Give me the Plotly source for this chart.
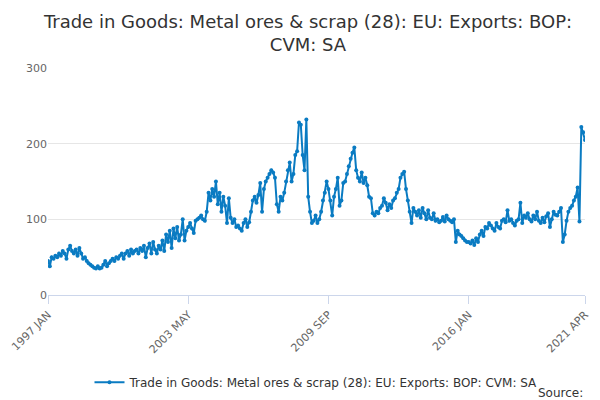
import plotly.graph_objects as go

months = ['JAN', 'FEB', 'MAR', 'APR', 'MAY', 'JUN',
          'JUL', 'AUG', 'SEP', 'OCT', 'NOV', 'DEC']

values = {
    1997: [45, 38, 50, 48, 52, 50, 55, 52, 58, 55, 48, 60],
    1998: [65, 58, 55, 60, 52, 62, 55, 48, 50, 45, 42, 40],
    1999: [38, 36, 35, 38, 35, 36, 40, 45, 38, 42, 45, 48],
    2000: [45, 50, 48, 52, 55, 48, 55, 58, 52, 60, 55, 58],
    2001: [60, 55, 62, 58, 65, 50, 62, 68, 55, 70, 60, 55],
    2002: [65, 60, 72, 58, 80, 70, 85, 62, 88, 75, 90, 72],
    2003: [80, 100, 72, 85, 90, 95, 88, 82, 98, 100, 102, 105],
    2004: [100, 98, 110, 135, 125, 140, 130, 150, 120, 135, 110, 130],
    2005: [118, 95, 128, 102, 95, 100, 90, 92, 88, 85, 95, 100],
    2006: [90, 96, 110, 125, 130, 122, 132, 148, 110, 140, 150, 155],
    2007: [160, 165, 162, 155, 120, 110, 130, 125, 135, 150, 165, 175],
    2008: [150, 160, 185, 190, 228, 225, 185, 165, 232, 130, 110, 95],
    2009: [98, 105, 95, 100, 110, 125, 135, 150, 140, 125, 105, 130],
    2010: [140, 155, 118, 125, 148, 150, 160, 170, 180, 188, 195, 165],
    2011: [155, 150, 162, 148, 155, 145, 130, 128, 108, 105, 110, 108],
    2012: [115, 118, 128, 122, 112, 120, 115, 125, 128, 135, 140, 155],
    2013: [160, 163, 140, 125, 110, 95, 115, 110, 105, 112, 102, 115],
    2014: [108, 100, 112, 102, 100, 108, 98, 100, 96, 98, 103, 97],
    2015: [105, 100, 98, 96, 100, 70, 85, 80, 78, 75, 72, 70],
    2016: [70, 68, 72, 66, 75, 70, 80, 85, 78, 90, 88, 95],
    2017: [92, 88, 85, 95, 90, 88, 98, 100, 96, 112, 98, 100],
    2018: [95, 92, 98, 100, 122, 95, 105, 102, 108, 100, 97, 105],
    2019: [100, 110, 98, 95, 102, 96, 104, 108, 90, 100, 110, 106],
    2020: [105, 110, 115, 70, 80, 98, 110, 115, 118, 125, 130, 142],
    2021: [97, 222, 215, 205],
}

dates = []
data = []
for year, vals in values.items():
    for i, v in enumerate(vals):
        dates.append(f'{year} {months[i]}')
        data.append(v)

name = 'Trade in Goods: Metal ores & scrap (28): EU: Exports: BOP: CVM: SA'

fig = go.Figure()

fig.add_trace(go.Scatter(
    x=dates, y=data,
    mode='lines+markers',
    name=name,
    line=dict(color='#0a7bc2', width=2),
    marker=dict(color='#0a7bc2', size=4)
))

fig.add_annotation(
    text='Source:', x=1.0, y=-0.47, xref='paper', yref='paper',
    xanchor='right', showarrow=False,
    font=dict(size=12, color='#333333')
)

fig.update_layout(
    title=dict(text='Trade in Goods: Metal ores & scrap (28): EU: Exports: BOP:<br>CVM: SA',
               x=0.5, y=0.95, yref='container', yanchor='top'),
    title_font=dict(size=18, color='#333333'),
    font=dict(family='DejaVu Sans', color='#666666'),
    showlegend=True,
    legend=dict(orientation='h', x=0.5, xanchor='center', y=-0.32,
                font=dict(size=12, color='#333333')),
    width=600,
    height=400,
    plot_bgcolor='white',
    paper_bgcolor='white',
    margin=dict(l=40, r=23, t=60, b=110),
    hovermode='closest',
    xaxis=dict(type='category', showgrid=False, zeroline=False, automargin=False,
               range=[0, len(dates) - 1],
               tickvals=['1997 JAN', '2003 MAY', '2009 SEP', '2016 JAN', '2021 APR'],
               tickangle=-45, ticks='outside', ticklen=8, tickcolor='#ccd6eb',
               showline=True, linecolor='#ccd6eb', tickfont=dict(size=11)),
    yaxis=dict(range=[0, 300], tickvals=[0, 100, 200, 300], showgrid=True, automargin=False,
               gridcolor='#e6e6e6', zeroline=False, tickfont=dict(size=11)),
)

fig.write_html("out.html")
